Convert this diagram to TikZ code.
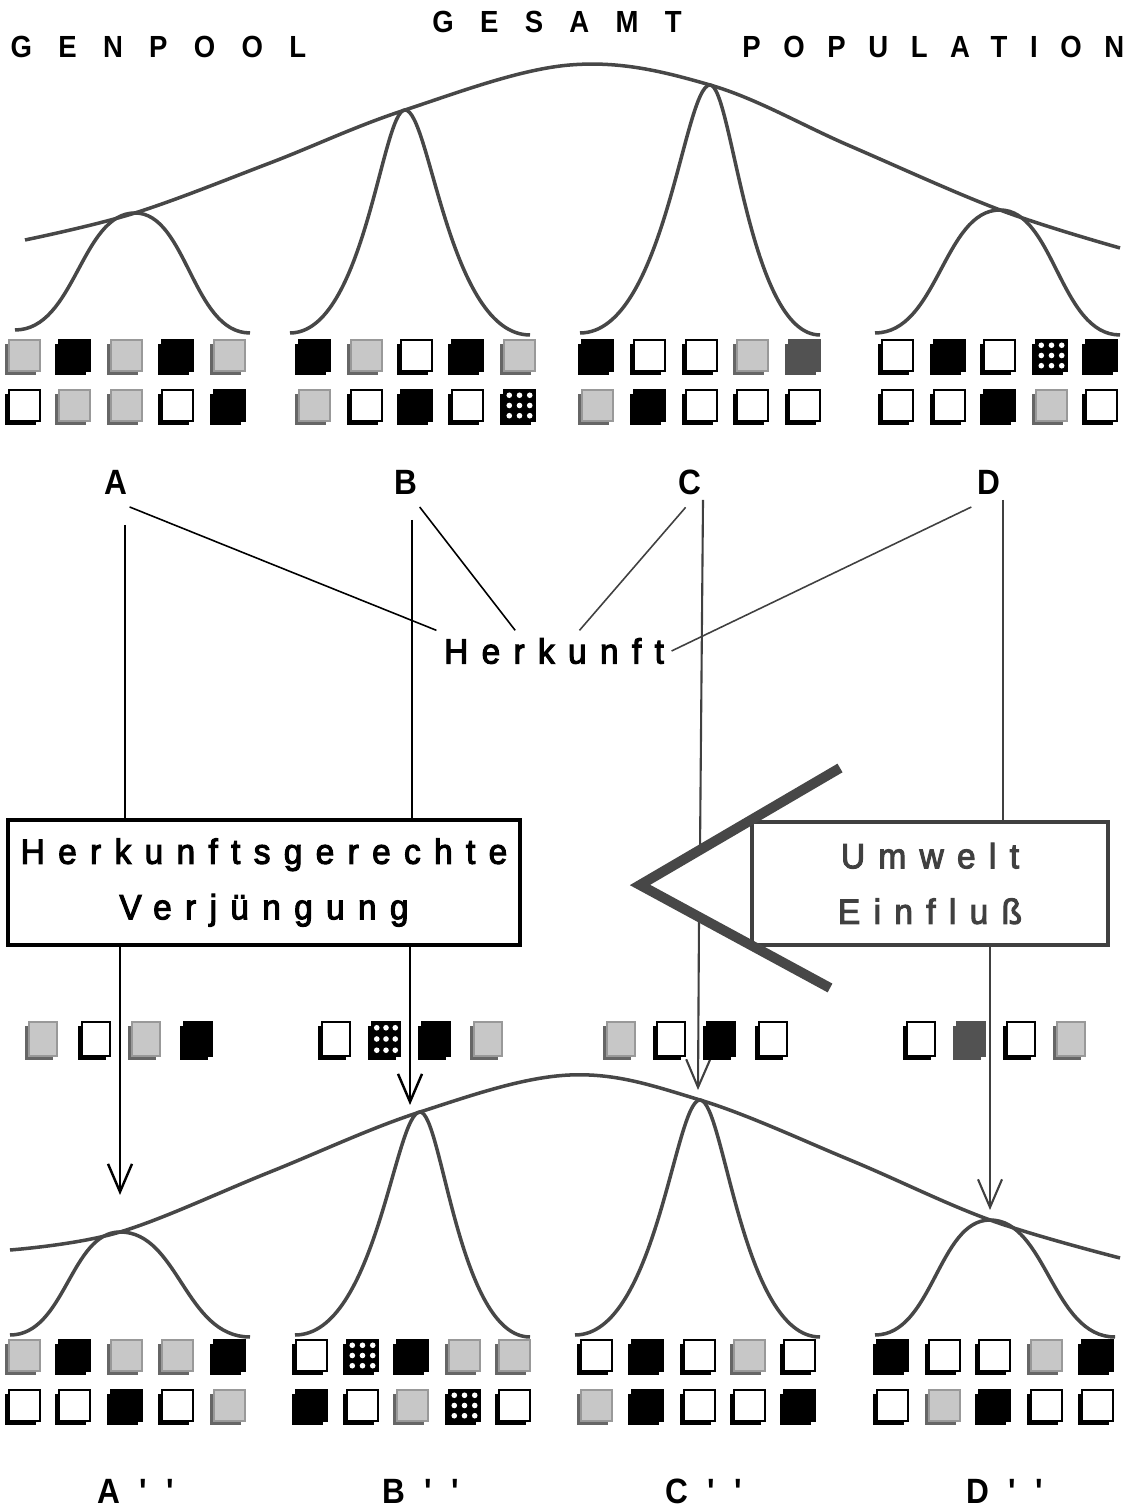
\documentclass[tikz,border=0pt]{standalone}
\usepackage{fontspec}
\setmainfont{Liberation Sans}
\newfontfamily\capsfont[LetterSpace=86,FakeStretch=0.9]{Liberation Sans}
\newfontfamily\capsnarrowfont[LetterSpace=74,FakeStretch=0.9]{Liberation Sans}
\newfontfamily\wordfont[LetterSpace=38,FakeStretch=0.95,FakeBold=3]{Liberation Sans}
\newfontfamily\markfont[LetterSpace=55,FakeStretch=0.9]{Liberation Sans}
\usetikzlibrary{calc,arrows.meta}
\def\sqw{0.31}
\def\sqh{0.31}
\def\gensq[#1](#2,#3){\fill[#1 shadow] ({#2-0.04},{#3-0.04}) rectangle ++(\sqw,\sqh); \draw[#1] (#2,#3) rectangle ++(\sqw,\sqh);}
\def\genbell[#1:#2](#3,#4)(#5,#6)(#7,#8){\draw[popcurve] (#3,#4) .. controls ({#3+#1*(#5-#3)},#4) and ({#5-#2*(#5-#3)},#6) .. (#5,#6) .. controls ({#5+#2*(#7-#5)},#6) and ({#7-#1*(#7-#5)},#8) .. (#7,#8);}
\tikzset{
	popcurve/.style={line width=1pt, draw=black!72},
	sqwhite/.style={draw=black, line width=0.6pt, fill=white},
	sqwhite shadow/.style={fill=black},
	sqblack/.style={draw=black, line width=0.6pt, fill=black},
	sqblack shadow/.style={fill=black},
	sqgrey/.style={draw=black!40, line width=0.4pt, fill=black!22},
	sqgrey shadow/.style={fill=black!60},
	sqdark/.style={draw=black!68, line width=0.4pt, fill=black!68},
	sqdark shadow/.style={fill=black!68},
	sqdots/.style={sqblack, path picture={\foreach \pu in {0.17,0.5,0.83} \foreach \pv in {0.17,0.5,0.83} \fill[white] ($(path picture bounding box.south west)+(\pu*\sqw,\pv*\sqh)$) circle (0.028);}},
	sqdots shadow/.style={fill=black},
	capslabel/.style={font=\capsfont\bfseries\fontsize{8.7}{10}\selectfont, inner sep=0pt},
	capsnarrow/.style={font=\capsnarrowfont\bfseries\fontsize{8.7}{10}\selectfont, inner sep=0pt},
	letterlabel/.style={font=\markfont\bfseries\fontsize{10}{12}\selectfont},
	wordlabel/.style={font=\wordfont\fontsize{10}{15.8}\selectfont},
	verjbox/.style={wordlabel, draw, line width=1.3pt, minimum width=5.12cm, minimum height=1.25cm, inner sep=1pt, align=center},
	umweltbox/.style={wordlabel, draw=black!75, text=black!75, line width=1pt, minimum width=3.56cm, minimum height=1.23cm, align=center},
	link/.style={line width=0.45pt},
	flow/.style={line width=0.7pt, -{Straight Barb[length=0.28cm, width=0.24cm]}},
	chevron/.style={line width=0.1cm, draw=black!72, line join=miter}
}
\begin{document}
\begin{tikzpicture}
			%%%%% START %%%%%
			\useasboundingbox (0, 0) rectangle (11.4, 15.08);
			
			\node[capslabel, anchor=base west] (genpool) at (0.10, 14.50) {GENPOOL};
			\node[capslabel, anchor=base] (gesamt) at (5.57, 14.75) {GESAMT};
			\node[capsnarrow, anchor=base east] (population) at (11.25, 14.50) {POPULATION};
			
			\draw[popcurve] plot[smooth, tension=0.6] coordinates {(0.25, 12.68) (1.35, 12.95) (2.70, 13.45) (4.05, 13.98) (5.70, 14.43) (7.10, 14.23) (8.50, 13.62) (10.00, 12.98) (11.20, 12.60)};
			\genbell[0.5:0.45](0.15, 11.78)(1.35, 12.95)(2.50, 11.75)
			\genbell[0.65:0.2](2.90, 11.75)(4.05, 13.98)(5.30, 11.73)
			\genbell[0.65:0.2](5.80, 11.75)(7.10, 14.23)(8.20, 11.73)
			\genbell[0.5:0.45](8.75, 11.75)(10.00, 12.98)(11.20, 11.73)
			
			\gensq[sqgrey](0.09, 11.37) \gensq[sqblack](0.59, 11.37) \gensq[sqgrey](1.11, 11.37) \gensq[sqblack](1.62, 11.37) \gensq[sqgrey](2.14, 11.37)
			\gensq[sqblack](2.99, 11.37) \gensq[sqgrey](3.51, 11.37) \gensq[sqwhite](4.01, 11.37) \gensq[sqblack](4.52, 11.37) \gensq[sqgrey](5.04, 11.37)
			\gensq[sqblack](5.82, 11.37) \gensq[sqwhite](6.34, 11.37) \gensq[sqwhite](6.86, 11.37) \gensq[sqgrey](7.37, 11.37) \gensq[sqdark](7.89, 11.37)
			\gensq[sqwhite](8.82, 11.37) \gensq[sqblack](9.34, 11.37) \gensq[sqwhite](9.84, 11.37) \gensq[sqdots](10.36, 11.37) \gensq[sqblack](10.86, 11.37)
			\gensq[sqwhite](0.09, 10.87) \gensq[sqgrey](0.59, 10.87) \gensq[sqgrey](1.11, 10.87) \gensq[sqwhite](1.62, 10.87) \gensq[sqblack](2.14, 10.87)
			\gensq[sqgrey](2.99, 10.87) \gensq[sqwhite](3.51, 10.87) \gensq[sqblack](4.01, 10.87) \gensq[sqwhite](4.52, 10.87) \gensq[sqdots](5.04, 10.87)
			\gensq[sqgrey](5.82, 10.87) \gensq[sqblack](6.34, 10.87) \gensq[sqwhite](6.86, 10.87) \gensq[sqwhite](7.37, 10.87) \gensq[sqwhite](7.89, 10.87)
			\gensq[sqwhite](8.82, 10.87) \gensq[sqwhite](9.34, 10.87) \gensq[sqblack](9.84, 10.87) \gensq[sqgrey](10.36, 10.87) \gensq[sqwhite](10.86, 10.87)
			
			\node[letterlabel] (la) at (1.155, 10.255) {A};
			\node[letterlabel] (lb) at (4.055, 10.255) {B};
			\node[letterlabel] (lc) at (6.90, 10.255) {C};
			\node[letterlabel] (ld) at (9.885, 10.255) {D};
			\node[wordlabel, inner sep=2pt] (herk) at (5.54, 8.57) {Herkunft};
			
			\draw[link] (la.-60) -- (herk.north west);
			\draw[link] (lb.-60) -- (herk.152);
			\draw[link, draw=black!75] (lc.-100) -- (herk.39);
			\draw[link, draw=black!75] (ld.-125) -- (herk.east);
			
			\node[verjbox] (verj) at (2.64, 6.255) {Herkunftsgerechte\\Verjüngung};
			\node[umweltbox] (umwelt) at (9.30, 6.245) {Umwelt\\Einfluß};
			
			\coordinate (aTop) at (1.25, 9.83);
			\coordinate (aTip) at (1.20, 3.13);
			\coordinate (bTop) at (4.12, 9.88);
			\coordinate (bTip) at (4.10, 4.03);
			\coordinate (cTop) at (7.03, 10.08);
			\coordinate (cIn) at (7.00, 6.58);
			\coordinate (cOut) at (6.99, 5.91);
			\coordinate (cTip) at (6.98, 4.18);
			\coordinate (dTop) at (10.03, 10.08);
			\coordinate (dTip) at (9.90, 2.98);
			
			\draw[line width=0.7pt] (aTop) -- (aTop |- verj.north);
			\draw[flow] (aTip |- verj.south) -- (aTip);
			\draw[line width=0.7pt] (bTop) -- (bTop |- verj.north);
			\draw[flow] (bTip |- verj.south) -- (bTip);
			\draw[line width=0.6pt, draw=black!75] (cTop) -- (cIn);
			\draw[flow, line width=0.6pt, draw=black!75] (cOut) -- (cTip);
			\draw[line width=0.6pt, draw=black!75] (dTop) -- (dTop |- umwelt.north);
			\draw[flow, line width=0.6pt, draw=black!75] (dTip |- umwelt.south) -- (dTip);
			
			\draw[chevron] (8.40, 7.40) -- (6.40, 6.23) -- (8.30, 5.20);
			
			\def\sqw{0.28}
			\def\sqh{0.34}
			\gensq[sqgrey](0.29, 4.52) \gensq[sqwhite](0.82, 4.52) \gensq[sqgrey](1.32, 4.52) \gensq[sqblack](1.84, 4.52)
			\gensq[sqwhite](3.22, 4.52) \gensq[sqdots](3.72, 4.52) \gensq[sqblack](4.22, 4.52) \gensq[sqgrey](4.74, 4.52)
			\gensq[sqgrey](6.07, 4.52) \gensq[sqwhite](6.57, 4.52) \gensq[sqblack](7.07, 4.52) \gensq[sqwhite](7.59, 4.52)
			\gensq[sqwhite](9.07, 4.52) \gensq[sqdark](9.57, 4.52) \gensq[sqwhite](10.07, 4.52) \gensq[sqgrey](10.57, 4.52)
			\def\sqw{0.31}
			\def\sqh{0.31}
			
			\draw[popcurve] plot[smooth, tension=0.6] coordinates {(0.10, 2.58) (1.20, 2.76) (2.70, 3.36) (4.20, 3.96) (5.70, 4.33) (7.00, 4.08) (8.50, 3.48) (9.90, 2.88) (11.20, 2.50)};
			\genbell[0.5:0.45](0.10, 1.73)(1.20, 2.76)(2.50, 1.71)
			\genbell[0.65:0.2](2.95, 1.73)(4.20, 3.96)(5.30, 1.71)
			\genbell[0.65:0.2](5.75, 1.73)(7.00, 4.08)(8.20, 1.71)
			\genbell[0.5:0.45](8.75, 1.73)(9.90, 2.88)(11.15, 1.71)
			
			\gensq[sqgrey](0.09, 1.37) \gensq[sqblack](0.59, 1.37) \gensq[sqgrey](1.11, 1.37) \gensq[sqgrey](1.62, 1.37) \gensq[sqblack](2.14, 1.37)
			\gensq[sqwhite](2.96, 1.37) \gensq[sqdots](3.47, 1.37) \gensq[sqblack](3.97, 1.37) \gensq[sqgrey](4.49, 1.37) \gensq[sqgrey](4.99, 1.37)
			\gensq[sqwhite](5.81, 1.37) \gensq[sqblack](6.32, 1.37) \gensq[sqwhite](6.84, 1.37) \gensq[sqgrey](7.34, 1.37) \gensq[sqwhite](7.84, 1.37)
			\gensq[sqblack](8.77, 1.37) \gensq[sqwhite](9.29, 1.37) \gensq[sqwhite](9.79, 1.37) \gensq[sqgrey](10.31, 1.37) \gensq[sqblack](10.82, 1.37)
			\gensq[sqwhite](0.09, 0.87) \gensq[sqwhite](0.59, 0.87) \gensq[sqblack](1.11, 0.87) \gensq[sqwhite](1.62, 0.87) \gensq[sqgrey](2.14, 0.87)
			\gensq[sqblack](2.96, 0.87) \gensq[sqwhite](3.47, 0.87) \gensq[sqgrey](3.97, 0.87) \gensq[sqdots](4.49, 0.87) \gensq[sqwhite](4.99, 0.87)
			\gensq[sqgrey](5.81, 0.87) \gensq[sqblack](6.32, 0.87) \gensq[sqwhite](6.84, 0.87) \gensq[sqwhite](7.34, 0.87) \gensq[sqblack](7.84, 0.87)
			\gensq[sqwhite](8.77, 0.87) \gensq[sqgrey](9.29, 0.87) \gensq[sqblack](9.79, 0.87) \gensq[sqwhite](10.31, 0.87) \gensq[sqwhite](10.82, 0.87)
			
			\node[letterlabel, inner sep=0pt, anchor=base west] (la2) at (0.97, 0.05) {A{'}{'}};
			\node[letterlabel, inner sep=0pt, anchor=base west] (lb2) at (3.82, 0.05) {B{'}{'}};
			\node[letterlabel, inner sep=0pt, anchor=base west] (lc2) at (6.65, 0.05) {C{'}{'}};
			\node[letterlabel, inner sep=0pt, anchor=base west] (ld2) at (9.66, 0.05) {D{'}{'}};
			
			%%%%% END %%%%%
		\end{tikzpicture}
\end{document}
